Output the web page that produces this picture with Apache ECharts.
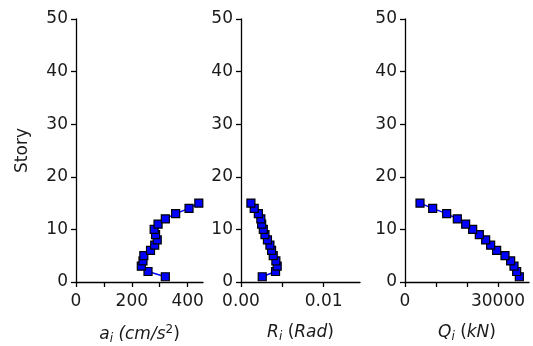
<!DOCTYPE html>
<html><head><meta charset="utf-8">
<script src="https://cdn.jsdelivr.net/npm/echarts@6/dist/echarts.min.js"></script>
<style>html,body{margin:0;padding:0;background:#fff}#c{width:533px;height:346px}</style>
</head><body><div id="c"></div>
<script>
const stories = [1,2,3,4,5,6,7,8,9,10,11,12,13,14,15];
const accel = [320,258,234,240,243,267,282,291,285,280,294,320,357,405,440];
const drift = [0.00257,0.00418,0.00438,0.00422,0.0039,0.0037,0.0035,0.0032,0.0029,0.0027,0.0025,0.0024,0.0021,0.0016,0.0012];
const shear = [36880,36020,35160,34080,32260,29570,27630,26020,23980,21830,19570,16880,13440,8930,4840];
const yTicks = [0,10,20,30,40,50];

const font = 'DejaVu Sans';
const txt = '#1a1a1a';
const chart = echarts.init(document.getElementById('c'));
const grids = [
  {left:76, width:127, top:19, bottom:64, containLabel:false, outerBoundsMode:'none'},
  {left:241, width:119, top:19, bottom:64, containLabel:false, outerBoundsMode:'none'},
  {left:405, width:124, top:19, bottom:64, containLabel:false, outerBoundsMode:'none'}
];
const axisCommon = {
  axisLine:{show:true,lineStyle:{color:'#000',width:1.3}},
  axisTick:{show:true,inside:false,length:5,lineStyle:{color:'#000',width:1.3}},
  splitLine:{show:false},
  axisLabel:{color:txt,fontFamily:font,fontSize:17}
};
const nameRich = {
  i:{fontFamily:font,fontSize:17,fontStyle:'italic',color:txt},
  n:{fontFamily:font,fontSize:17,color:txt},
  sub:{fontFamily:font,fontSize:12,fontStyle:'italic',color:txt,verticalAlign:'bottom',padding:[9,0,0,0]},
  sup:{fontFamily:font,fontSize:12,color:txt,verticalAlign:'top',padding:[0,0,9,0]}
};
function xAxis(idx,max,interval,labels,name,gap){
  return Object.assign({}, axisCommon, {
    type:'value', gridIndex:idx, min:0, max:max, interval:interval,
    axisLabel:Object.assign({},axisCommon.axisLabel,{margin:11,showMaxLabel:false,hideOverlap:false,
      formatter:function(v){ const k = labels.find(l=>Math.abs(l[0]-v)<1e-9); return k?k[1]:''; }}),
    name:name, nameLocation:'middle', nameGap:gap,
    nameTextStyle:{rich:nameRich}
  });
}
function yAxis(idx,withName){
  return Object.assign({}, axisCommon, {
    type:'value', gridIndex:idx, min:0, max:50, interval:10,
    axisLabel:Object.assign({},axisCommon.axisLabel,{margin:8}),
    name: withName?'Story':'', nameLocation:'middle', nameGap:45,
    nameTextStyle:{fontFamily:font,fontSize:17,color:txt}
  });
}
function series(idx,vals){
  return {
    type:'line', xAxisIndex:idx, yAxisIndex:idx,
    data: vals.map((v,i)=>[v,stories[i]]),
    symbol:'rect', symbolSize:8, showSymbol:true,
    lineStyle:{color:'#0000ff',width:1.5},
    itemStyle:{color:'#0000ff',borderColor:'#000',borderWidth:1.2},
    animation:false, clip:false
  };
}
chart.setOption({
  animation:false,
  grid:grids,
  xAxis:[
    xAxis(0,455,100,[[0,'0'],[200,'200'],[400,'400']],'{i|a}{sub|i}{i| (cm/s}{sup|2}{n|)}',42),
    xAxis(1,0.0144,0.005,[[0,'0.00'],[0.01,'0.01']],'{i|R}{sub|i}{n| (}{i|Rad}{n|)}',40),
    xAxis(2,40000,10000,[[0,'0'],[30000,'30000']],'{i|Q}{sub|i}{n| (}{i|kN}{n|)}',40)
  ],
  yAxis:[yAxis(0,true),yAxis(1,false),yAxis(2,false)],
  series:[series(0,accel),series(1,drift),series(2,shear)]
});
</script></body></html>
